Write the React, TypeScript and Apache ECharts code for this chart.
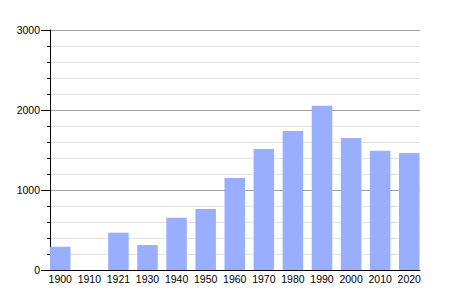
import React, { useEffect, useRef } from "react";
import * as echarts from "echarts";

const years = ["1900", "1910", "1921", "1930", "1940", "1950", "1960", "1970", "1980", "1990", "2000", "2010", "2020"];
const population: (number | null)[] = [290, null, 466, 312, 654, 762, 1150, 1512, 1737, 2054, 1650, 1492, 1462];
const yTicks = { min: 0, max: 3000, interval: 1000 };

export default function App() {
  const ref = useRef<HTMLDivElement>(null);
  useEffect(() => {
    if (!ref.current) return;
    const chart = echarts.init(ref.current, null, { renderer: "svg" });
    const font = "Liberation Sans, Arial, sans-serif";
    chart.setOption({
      animation: false,
      grid: [
        { left: 50, right: 30, top: 30, bottom: 30 },
        { left: 45.7, right: 26.2, top: 30, bottom: 30 },
      ],
      xAxis: [
        {
          type: "category",
          gridIndex: 0,
          data: years,
          axisLine: { show: true, lineStyle: { color: "#000", width: 1 } },
          axisTick: { show: false },
          axisLabel: { show: false },
          splitLine: { show: false },
        },
        {
          type: "category",
          gridIndex: 1,
          data: years,
          axisLine: { show: false },
          axisTick: { show: false },
          axisLabel: { show: true, color: "#000", fontSize: 10.5, fontFamily: font, margin: 3, interval: 0 },
          splitLine: { show: false },
        },
      ],
      yAxis: [
        {
          type: "value",
          gridIndex: 0,
          min: yTicks.min,
          max: yTicks.max,
          interval: yTicks.interval,
          axisLine: { show: true, lineStyle: { color: "#000", width: 1 } },
          axisTick: { show: true, length: 9, lineStyle: { color: "#000" } },
          minorTick: { show: true, splitNumber: 5, length: 3, lineStyle: { color: "#000" } },
          axisLabel: {
            color: "#000",
            fontSize: 10.5,
            fontFamily: font,
            margin: 10,
            formatter: (v: number) => String(v),
          },
          splitLine: { show: true, lineStyle: { color: "#a0a0a0", width: 1 } },
          minorSplitLine: { show: true, lineStyle: { color: "#e2e2e2", width: 1 } },
        },
        {
          type: "value",
          gridIndex: 1,
          min: yTicks.min,
          max: yTicks.max,
          interval: yTicks.interval,
          show: false,
          splitLine: { show: false },
        },
      ],
      series: [
        {
          type: "bar",
          xAxisIndex: 1,
          yAxisIndex: 1,
          data: population,
          barWidth: 20.5,
          itemStyle: { color: "#99aeff" },
          z: 1,
        },
      ],
    });
    return () => chart.dispose();
  }, []);
  return <div ref={ref} style={{ width: 450, height: 300, margin: -8 }} />;
}
